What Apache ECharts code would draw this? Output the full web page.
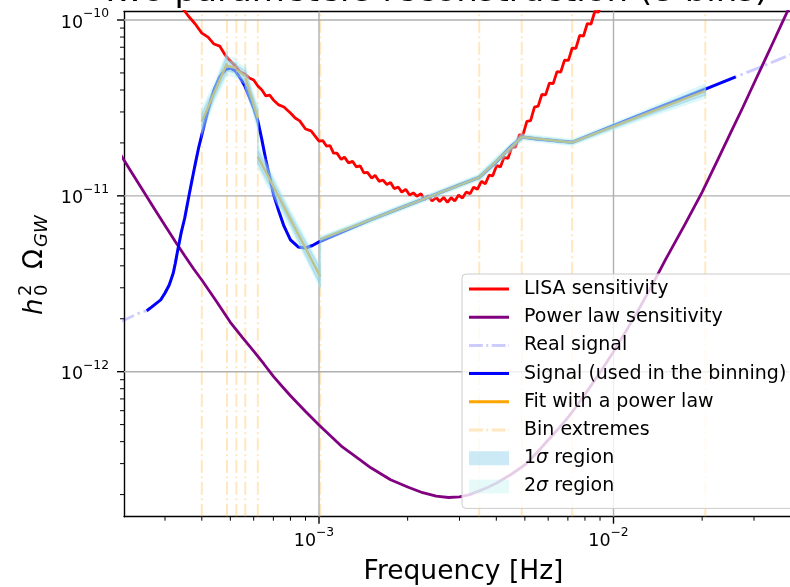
<!DOCTYPE html>
<html><head><meta charset="utf-8">
<script src="https://cdn.jsdelivr.net/npm/echarts@6/dist/echarts.min.js"></script>
<style>html,body{margin:0;padding:0;background:#fff}#c{width:790px;height:587px}</style>
</head><body><div id="c"></div>
<script>
// ---------- axis ranges ----------
const X_MIN = 2.177e-4, X_MAX = 3.975e-2;
const Y_MIN = 1.497e-13, Y_MAX = 1.118e-10;

// ---------- ticks ----------
const xMajorTicks = [1e-3, 1e-2];
const xTickExp = ['\u22123', '\u22122'];
const xMinorTicks = [3e-4,4e-4,5e-4,6e-4,7e-4,8e-4,9e-4,2e-3,3e-3,4e-3,5e-3,6e-3,7e-3,8e-3,9e-3,2e-2,3e-2];
const yMajorTicks = [1e-12, 1e-11, 1e-10];
const yTickExp = ['\u221212', '\u221211', '\u221210'];
const yMinorTicks = [2e-13,3e-13,4e-13,5e-13,6e-13,7e-13,8e-13,9e-13,2e-12,3e-12,4e-12,5e-12,6e-12,7e-12,8e-12,9e-12,2e-11,3e-11,4e-11,5e-11,6e-11,7e-11,8e-11,9e-11];

// ---------- LISA sensitivity (noisy curve) ----------
const lisaFreq = [3.4e-4,3.6e-4,3.8e-4,4.0e-4,4.2e-4,4.4e-4,4.6e-4,4.8e-4,5.0e-4,5.2e-4,5.4e-4,5.6e-4,5.8e-4,6.0e-4,6.2e-4,6.4e-4,6.6e-4,6.8e-4,
  7.0e-4,7.3e-4,7.6e-4,8.0e-4,8.3e-4,8.6e-4,9.0e-4,9.4e-4,
  1.00e-3,1.03e-3,1.06e-3,1.09e-3,1.12e-3,1.15e-3,1.19e-3,1.22e-3,1.26e-3,1.30e-3,1.34e-3,1.38e-3,1.42e-3,1.46e-3,1.51e-3,1.55e-3,
  1.60e-3,1.65e-3,1.70e-3,1.75e-3,1.80e-3,1.86e-3,1.91e-3,1.97e-3,2.03e-3,2.09e-3,2.15e-3,2.22e-3,2.28e-3,2.35e-3,2.42e-3,2.50e-3,
  2.57e-3,2.65e-3,2.73e-3,2.81e-3,2.89e-3,2.98e-3,3.07e-3,3.16e-3,3.26e-3,3.35e-3,3.45e-3,3.56e-3,3.67e-3,3.78e-3,3.89e-3,4.01e-3,
  4.13e-3,4.25e-3,4.38e-3,4.51e-3,4.65e-3,4.79e-3,4.93e-3,5.08e-3,5.23e-3,5.39e-3,5.55e-3,5.71e-3,5.88e-3,6.06e-3,6.24e-3,6.43e-3,
  6.62e-3,6.82e-3,7.03e-3,7.24e-3,7.45e-3,7.68e-3,7.91e-3,8.15e-3,8.39e-3,8.64e-3,8.90e-3,9.17e-3,9.45e-3];
const lisaVals = [1.20e-10,1.054e-10,9.49e-11,8.43e-11,8.0e-11,7.3e-11,7.11e-11,6.32e-11,5.85e-11,5.47e-11,5.06e-11,4.93e-11,4.68e-11,4.56e-11,4.21e-11,4.00e-11,3.70e-11,3.74e-11,
  3.51e-11,3.29e-11,3.20e-11,2.96e-11,2.77e-11,2.67e-11,2.40e-11,2.34e-11,
  2.05e-11,2.06e-11,1.92e-11,1.93e-11,1.75e-11,1.75e-11,1.61e-11,1.66e-11,1.54e-11,1.57e-11,1.46e-11,1.48e-11,1.35e-11,1.36e-11,1.26e-11,1.31e-11,
  1.21e-11,1.23e-11,1.16e-11,1.19e-11,1.10e-11,1.12e-11,1.05e-11,1.09e-11,1.01e-11,1.04e-11,9.94e-12,1.03e-11,9.53e-12,1.00e-11,9.36e-12,9.79e-12,
  9.29e-12,9.79e-12,9.17e-12,9.77e-12,9.35e-12,1.01e-11,9.72e-12,1.05e-11,1.03e-11,1.12e-11,1.09e-11,1.21e-11,1.17e-11,1.31e-11,1.30e-11,1.49e-11,
  1.46e-11,1.66e-11,1.63e-11,1.88e-11,1.90e-11,2.22e-11,2.23e-11,2.65e-11,2.68e-11,3.20e-11,3.24e-11,3.77e-11,3.75e-11,4.38e-11,4.35e-11,5.09e-11,
  5.06e-11,5.92e-11,5.89e-11,6.93e-11,6.89e-11,8.17e-11,8.11e-11,9.55e-11,9.49e-11,1.118e-10,1.11e-10,1.31e-10,1.36e-10];

// ---------- power law sensitivity ----------
const plsFreq = [2.1e-4,2.3e-4,2.5e-4,2.75e-4,3e-4,3.25e-4,3.5e-4,3.75e-4,4e-4,4.5e-4,5e-4,5.5e-4,6e-4,6.5e-4,7e-4,7.5e-4,8e-4,9e-4,
  1e-3,1.1e-3,1.2e-3,1.35e-3,1.5e-3,1.75e-3,2e-3,2.25e-3,2.5e-3,2.75e-3,3e-3,3.25e-3,3.5e-3,3.75e-3,4e-3,4.5e-3,5e-3,5.5e-3,6e-3,6.5e-3,7e-3,7.5e-3,8e-3,9e-3,
  1e-2,1.1e-2,1.2e-2,1.35e-2,1.5e-2,1.75e-2,2e-2,2.25e-2,2.5e-2,2.75e-2,3e-2,3.25e-2,3.5e-2,3.75e-2,4e-2,4.5e-2];
const plsVals = [1.76e-11,1.375e-11,1.10e-11,8.53e-12,6.78e-12,5.50e-12,4.56e-12,3.85e-12,3.32e-12,2.49e-12,1.91e-12,1.56e-12,1.31e-12,1.106e-12,9.4e-13,8.24e-13,7.3e-13,5.94e-13,
  4.98e-13,4.28e-13,3.73e-13,3.23e-13,2.84e-13,2.43e-13,2.21e-13,2.05e-13,1.96e-13,1.925e-13,1.94e-13,2.00e-13,2.10e-13,2.20e-13,2.32e-13,2.61e-13,2.95e-13,3.47e-13,4.09e-13,4.74e-13,5.48e-13,6.38e-13,7.43e-13,9.9e-13,
  1.30e-12,1.69e-12,2.16e-12,3.09e-12,4.32e-12,6.90e-12,1.05e-11,1.58e-11,2.29e-11,3.19e-11,4.37e-11,5.82e-11,7.6e-11,9.75e-11,1.23e-10,1.88e-10];

// ---------- signal (real signal = full curve, binned signal = used range) ----------
const sigFreq = [2.1e-4,2.2e-4,2.5e-4,2.6e-4,2.7e-4,2.9e-4,3.0e-4,3.1e-4,3.15e-4,3.2e-4,3.25e-4,3.3e-4,3.4e-4,3.5e-4,3.6e-4,3.7e-4,3.8e-4,3.9e-4,4.0e-4,
  4.2e-4,4.4e-4,4.6e-4,4.8e-4,5.0e-4,5.2e-4,5.4e-4,5.6e-4,5.8e-4,6.0e-4,6.2e-4,6.4e-4,6.6e-4,6.8e-4,7.0e-4,7.3e-4,7.6e-4,8.0e-4,8.5e-4,9.0e-4,9.5e-4,1.0e-3,
  1.5e-3,2.0e-3,2.5e-3,3.0e-3,3.5e-3,4.0e-3,4.5e-3,4.9e-3,5.5e-3,6.0e-3,6.5e-3,7.27e-3,1.0e-2,1.5e-2,2.05e-2,2.6e-2,3.0e-2,4.2e-2];
const sigVals = [1.91e-12,1.98e-12,2.19e-12,2.22e-12,2.33e-12,2.56e-12,2.80e-12,3.11e-12,3.37e-12,3.64e-12,4.12e-12,4.73e-12,6.11e-12,7.48e-12,9.6e-12,1.214e-11,1.518e-11,1.871e-11,2.22e-11,
  3.08e-11,4.0e-11,4.74e-11,5.2e-11,5.33e-11,5.13e-11,4.68e-11,4.21e-11,3.65e-11,3.16e-11,2.67e-11,2.08e-11,1.60e-11,1.28e-11,1.024e-11,8.2e-12,6.74e-12,5.61e-12,5.12e-12,5.05e-12,5.22e-12,5.47e-12,
  7.33e-12,8.84e-12,1.023e-11,1.153e-11,1.275e-11,1.56e-11,1.92e-11,2.16e-11,2.105e-11,2.08e-11,2.05e-11,2.02e-11,2.51e-11,3.29e-11,4.04e-11,4.75e-11,5.22e-11,6.58e-11];
const SIGNAL_USED_MIN = 2.6e-4, SIGNAL_USED_MAX = 2.6e-2;

// ---------- bins & power-law fits ----------
const binStart = [4.0e-4,4.87e-4,5.24e-4,5.62e-4,6.2e-4,1.01e-3,3.5e-3,4.88e-3,7.24e-3];
const binEnd   = [4.87e-4,5.24e-4,5.62e-4,6.2e-4,1.01e-3,3.5e-3,4.88e-3,7.24e-3,2.05e-2];
const fitStart = [2.64e-11,5.47e-11,5.20e-11,4.68e-11,1.67e-11,5.65e-12,1.275e-11,2.16e-11,2.01e-11];
const fitEnd   = [5.67e-11,5.33e-11,4.80e-11,2.77e-11,3.47e-12,1.275e-11,2.16e-11,2.01e-11,3.95e-11];

// ---------- uncertainty regions (start, middle, end of each bin) ----------
const bandFreq = [4.0e-4,4.414e-4,4.87e-4, 4.87e-4,5.05e-4,5.24e-4, 5.24e-4,5.427e-4,5.62e-4, 5.62e-4,5.903e-4,6.2e-4, 6.2e-4,7.913e-4,1.01e-3,
  1.01e-3,1.88e-3,3.5e-3, 3.5e-3,4.133e-3,4.88e-3, 4.88e-3,5.944e-3,7.24e-3, 7.24e-3,1.2183e-2,2.05e-2];
const band1Lo = [2.377e-11,3.625e-11,5.106e-11, 5.123e-11,5.058e-11,4.992e-11, 4.870e-11,4.679e-11,4.496e-11, 4.214e-11,3.328e-11,2.494e-11, 1.524e-11,7.128e-12,3.125e-12,
  5.540e-12,8.325e-12,1.250e-11, 1.242e-11,1.616e-11,2.104e-11, 2.118e-11,2.044e-11,1.971e-11, 1.971e-11,2.745e-11,3.748e-11];
const band1Hi = [2.932e-11,4.132e-11,6.297e-11, 5.840e-11,5.766e-11,5.691e-11, 5.552e-11,5.334e-11,5.125e-11, 5.197e-11,3.894e-11,3.076e-11, 1.830e-11,8.125e-12,3.853e-12,
  5.762e-12,8.658e-12,1.300e-11, 1.309e-11,1.703e-11,2.217e-11, 2.203e-11,2.125e-11,2.050e-11, 2.050e-11,2.893e-11,4.163e-11];
const band2Lo = [2.227e-11,3.440e-11,4.846e-11, 4.862e-11,4.800e-11,4.737e-11, 4.683e-11,4.499e-11,4.322e-11, 4.000e-11,3.158e-11,2.368e-11, 1.446e-11,6.764e-12,3.005e-12,
  5.432e-12,8.163e-12,1.226e-11, 1.210e-11,1.574e-11,2.050e-11, 2.077e-11,2.004e-11,1.933e-11, 1.933e-11,2.674e-11,3.604e-11];
const band2Hi = [3.130e-11,4.354e-11,6.634e-11, 6.154e-11,6.076e-11,5.997e-11, 5.775e-11,5.548e-11,5.330e-11, 5.476e-11,4.104e-11,3.241e-11, 1.929e-11,8.562e-12,4.008e-12,
  5.877e-12,8.830e-12,1.326e-11, 1.344e-11,1.748e-11,2.276e-11, 2.247e-11,2.168e-11,2.091e-11, 2.091e-11,2.970e-11,4.329e-11];

// ---------- build ----------
const FONT = 'DejaVu Sans';
const pairs = (fs, vs) => fs.map((f, i) => [f, vs[i]]);
const signalUsed = pairs(sigFreq, sigVals).filter(p => p[0] >= SIGNAL_USED_MIN && p[0] <= SIGNAL_USED_MAX);
const fitData = [];
binStart.forEach((f, i) => { fitData.push([f, fitStart[i]], [binEnd[i], fitEnd[i]], [binEnd[i], '-']); });
const binLineData = [];
binStart.forEach((f, i) => {
  binLineData.push([f, Y_MIN], [f, Y_MAX], [f, '-']);
  binLineData.push([binEnd[i], Y_MIN], [binEnd[i], Y_MAX], [binEnd[i], '-']);
});

const labelRich = {
  b: {fontSize: 17.5, fontFamily: FONT, lineHeight: 24, verticalAlign: 'bottom', fill: '#000'},
  s: {fontSize: 12.3, fontFamily: FONT, lineHeight: 13, verticalAlign: 'top', fill: '#000'}
};

function bandSeries(name, lo, hi, color) {
  return {
    type: 'custom', name, z: 3, silent: true, animation: false,
    itemStyle: {color},
    data: bandFreq.map((f, i) => [f, lo[i], hi[i]]),
    renderItem(params, api) {
      if (params.dataIndex !== 0) return null;
      const pts = [];
      for (let i = 0; i < bandFreq.length; i++) pts.push(api.coord([bandFreq[i], lo[i]]));
      for (let i = bandFreq.length - 1; i >= 0; i--) pts.push(api.coord([bandFreq[i], hi[i]]));
      return {type: 'polygon', shape: {points: pts}, style: {fill: color, stroke: color, lineWidth: 1.6}};
    }
  };
}

function decoSeries(data, render, z) {
  return {type: 'custom', silent: true, animation: false, z: z, clip: false, data, renderItem: render};
}

const SOLID_ICON = 'path://M0,0H40V3H0Z';
const DASHDOT_ICON = 'path://M0,0H14V3H0Z M17.5,0H19.5V3H17.5Z M23,0H37V3H23Z M40,0H40.5V3H40Z';

const series = [
  // grid lines
  decoSeries(xMajorTicks.map(v => [v, Y_MIN]), (p, api) => {
    const a = api.coord([api.value(0), Y_MIN]), b = api.coord([api.value(0), Y_MAX]);
    return {type: 'line', shape: {x1: a[0], y1: a[1], x2: b[0], y2: b[1]}, style: {stroke: '#b0b0b0', lineWidth: 1.4}};
  }, 1),
  decoSeries(yMajorTicks.map(v => [X_MIN, v]), (p, api) => {
    const a = api.coord([X_MIN, api.value(1)]), b = api.coord([X_MAX, api.value(1)]);
    return {type: 'line', shape: {x1: a[0], y1: a[1], x2: b[0], y2: b[1]}, style: {stroke: '#b0b0b0', lineWidth: 1.4}};
  }, 1),
  {
    name: 'Bin extremes', type: 'line', z: 1, data: binLineData, symbol: 'none', silent: true, animation: false,
    lineStyle: {color: 'rgba(255,165,0,0.25)', width: 2, type: [13, 3.5, 2, 3.5]}, itemStyle: {color: 'rgba(255,165,0,0.25)'}
  },
  {
    name: 'LISA sensitivity', type: 'line', z: 2, data: pairs(lisaFreq, lisaVals), symbol: 'none', silent: true, animation: false,
    lineStyle: {color: '#ff0000', width: 2.8}, itemStyle: {color: '#ff0000'}
  },
  {
    name: 'Power law sensitivity', type: 'line', z: 2, data: pairs(plsFreq, plsVals), symbol: 'none', silent: true, animation: false,
    lineStyle: {color: '#800080', width: 2.8}, itemStyle: {color: '#800080'}
  },
  {
    name: 'Real signal', type: 'line', z: 2, data: pairs(sigFreq, sigVals), symbol: 'none', silent: true, animation: false,
    lineStyle: {color: 'rgba(0,0,255,0.2)', width: 2.8, type: [16, 4, 2.5, 4]}, itemStyle: {color: 'rgba(0,0,255,0.2)'}
  },
  {
    name: 'Signal (used in the binning)', type: 'line', z: 2, data: signalUsed, symbol: 'none', silent: true, animation: false,
    lineStyle: {color: '#0000ff', width: 3}, itemStyle: {color: '#0000ff'}
  },
  {
    name: 'Fit with a power law', type: 'line', z: 2, data: fitData, symbol: 'none', silent: true, animation: false,
    lineStyle: {color: '#ffa500', width: 2.5}, itemStyle: {color: '#ffa500'}
  },
  bandSeries('2\u03c3 region', band2Lo, band2Hi, 'rgba(175,238,238,0.3)'),
  bandSeries('1\u03c3 region', band1Lo, band1Hi, 'rgba(135,206,235,0.43)'),
  // ticks + labels
  decoSeries(xMajorTicks.map(v => [v, Y_MIN]), (p, api) => {
    const a = api.coord([api.value(0), Y_MIN]);
    return {type: 'group', children: [
      {type: 'line', shape: {x1: a[0], y1: a[1], x2: a[0], y2: a[1] + 7}, style: {stroke: '#000', lineWidth: 1.4}},
      {type: 'text', x: a[0] - 5, y: a[1] + 10, style: {text: '{b|10}{s|' + xTickExp[p.dataIndex] + '}', rich: labelRich, align: 'center', verticalAlign: 'top'}}
    ]};
  }, 3),
  decoSeries(xMinorTicks.map(v => [v, Y_MIN]), (p, api) => {
    const a = api.coord([api.value(0), Y_MIN]);
    return {type: 'line', shape: {x1: a[0], y1: a[1], x2: a[0], y2: a[1] + 4}, style: {stroke: '#000', lineWidth: 1}};
  }, 3),
  decoSeries(yMajorTicks.map(v => [X_MIN, v]), (p, api) => {
    const a = api.coord([X_MIN, api.value(1)]);
    return {type: 'group', children: [
      {type: 'line', shape: {x1: a[0] - 7, y1: a[1], x2: a[0], y2: a[1]}, style: {stroke: '#000', lineWidth: 1.4}},
      {type: 'text', x: a[0] - 15, y: a[1], style: {text: '{b|10}{s|' + yTickExp[p.dataIndex] + '}', rich: labelRich, align: 'right', verticalAlign: 'middle'}}
    ]};
  }, 3),
  decoSeries(yMinorTicks.map(v => [X_MIN, v]), (p, api) => {
    const a = api.coord([X_MIN, api.value(1)]);
    return {type: 'line', shape: {x1: a[0] - 4, y1: a[1], x2: a[0], y2: a[1]}, style: {stroke: '#000', lineWidth: 1}};
  }, 3)
];

const hiddenAxis = {
  type: 'log', logBase: 10,
  axisTick: {show: false}, axisLabel: {show: false}, splitLine: {show: false}, minorTick: {show: false},
  axisLine: {show: true, onZero: false, lineStyle: {color: '#000', width: 1.4}}
};

const chart = echarts.init(document.getElementById('c'), null, {renderer: 'canvas', width: 790, height: 587});
chart.setOption({
  animation: false,
  backgroundColor: '#ffffff',
  grid: {left: 124, top: 11.5, width: 666, height: 505.2, containLabel: false, outerBoundsMode: 'none'},
  xAxis: [
    Object.assign({}, hiddenAxis, {min: X_MIN, max: X_MAX, position: 'bottom',
      name: 'Frequency [Hz]', nameLocation: 'middle', nameGap: 42,
      nameTextStyle: {fontFamily: FONT, fontSize: 26.5, color: '#000', padding: [0, 0, 0, 13]}}),
    Object.assign({}, hiddenAxis, {min: X_MIN, max: X_MAX, position: 'top'})
  ],
  yAxis: [Object.assign({}, hiddenAxis, {min: Y_MIN, max: Y_MAX, position: 'left'})],
  legend: {
    orient: 'vertical', left: 462, top: 274, z: 10,
    padding: [5, 10, 12, 7], itemWidth: 40, itemHeight: 14, itemGap: 8.2,
    backgroundColor: 'rgba(255,255,255,0.8)', borderColor: '#cccccc', borderWidth: 1, borderRadius: 4,
    selectedMode: false,
    itemStyle: {borderWidth: 0},
    textStyle: {fontFamily: FONT, fontSize: 19, color: '#000', lineHeight: 20, padding: [0, 0, 0, 10],
      rich: {i: {fontFamily: FONT, fontSize: 19, fontStyle: 'italic', lineHeight: 20}}},
    formatter: name => name.replace('\u03c3', '{i|\u03c3}'),
    data: [
      {name: 'LISA sensitivity', icon: SOLID_ICON}, {name: 'Power law sensitivity', icon: SOLID_ICON},
      {name: 'Real signal', icon: DASHDOT_ICON}, {name: 'Signal (used in the binning)', icon: SOLID_ICON},
      {name: 'Fit with a power law', icon: SOLID_ICON}, {name: 'Bin extremes', icon: DASHDOT_ICON},
      {name: '1\u03c3 region', icon: 'rect'}, {name: '2\u03c3 region', icon: 'rect'}
    ]
  },
  graphic: [
    {type: 'text', x: 100, y: -8, z: 20, style: {text: 'Two parameters reconstruction (8 bins)', font: '34px "DejaVu Sans"', fill: '#000', verticalAlign: 'middle'}},
    {type: 'group', x: 44, y: 315, rotation: Math.PI / 2, z: 20, children: [
      {type: 'text', x: 0, y: -9, style: {text: 'h', font: 'italic 26px "DejaVu Sans"', fill: '#000', verticalAlign: 'middle'}},
      {type: 'text', x: 19, y: -1.2, style: {text: '0', font: '18px "DejaVu Sans"', fill: '#000', verticalAlign: 'middle'}},
      {type: 'text', x: 19, y: -17.5, style: {text: '2', font: '18px "DejaVu Sans"', fill: '#000', verticalAlign: 'middle'}},
      {type: 'text', x: 46, y: -9, style: {text: '\u03a9', font: '26px "DejaVu Sans"', fill: '#000', verticalAlign: 'middle'}},
      {type: 'text', x: 68, y: -1.2, style: {text: 'GW', font: 'italic 18px "DejaVu Sans"', fill: '#000', verticalAlign: 'middle'}}
    ]}
  ],
  series
});
</script>
</body></html>
